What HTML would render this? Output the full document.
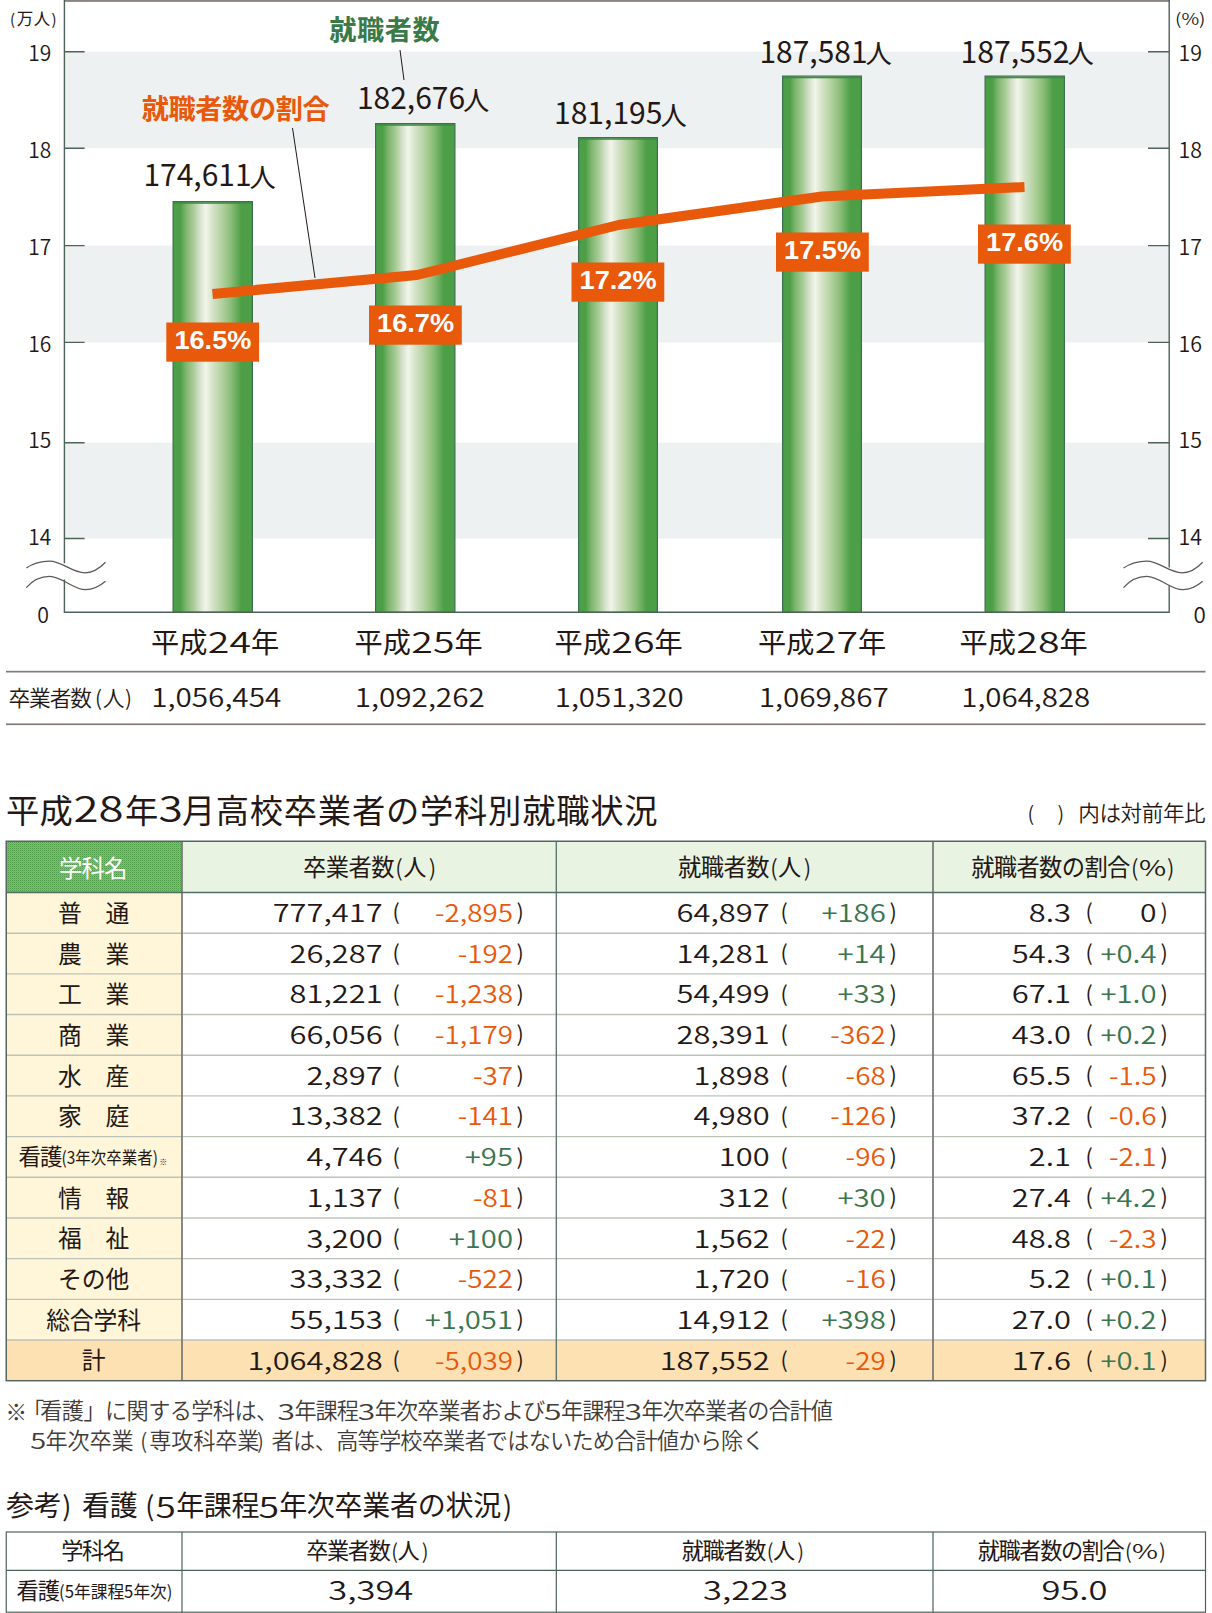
<!DOCTYPE html>
<html lang="ja"><head><meta charset="utf-8"><title>高校卒業者の就職状況</title>
<style>html,body{margin:0;padding:0;background:#fff}svg{display:block}
text{font-family:"Liberation Sans","Noto Sans CJK JP",sans-serif}
text.c{font-family:"Noto Sans CJK JP","Liberation Sans",sans-serif}
</style></head><body>
<svg width="1212" height="1613" viewBox="0 0 1212 1613">
<g fill="#231815">
<defs>
<linearGradient id="bar" x1="0" y1="0" x2="1" y2="0">
<stop offset="0.00" stop-color="#4c9f46"/>
<stop offset="0.09" stop-color="#4c9f46"/>
<stop offset="0.16" stop-color="#7db56e"/>
<stop offset="0.26" stop-color="#a9cd97"/>
<stop offset="0.33" stop-color="#d3dec9"/>
<stop offset="0.41" stop-color="#f1f6e9"/>
<stop offset="0.50" stop-color="#d5e2c8"/>
<stop offset="0.61" stop-color="#b3d3a0"/>
<stop offset="0.73" stop-color="#8bbd79"/>
<stop offset="0.86" stop-color="#4c9f46"/>
<stop offset="1.00" stop-color="#4c9f46"/>
</linearGradient>
<pattern id="dots" width="2" height="2" patternUnits="userSpaceOnUse"><rect width="2" height="2" fill="#80be70"/><rect width="1" height="1" fill="#4f9c48"/><rect x="1" y="1" width="1" height="1" fill="#6eb160"/></pattern>
</defs>
<rect x="64.4" y="51.7" width="1104.8" height="96.5" fill="#eef1f2"/>
<rect x="64.4" y="245.6" width="1104.8" height="96.8" fill="#eef1f2"/>
<rect x="64.4" y="442.7" width="1104.8" height="95.8" fill="#eef1f2"/>
<rect x="64" y="0" width="1106" height="1.9" fill="#8a8481"/>
<rect x="173.1" y="201.6" width="79.3" height="410.7" fill="url(#bar)" stroke="#3c6e50" stroke-width="1.2"/>
<rect x="173.7" y="202.2" width="78.1" height="1.6" fill="#3f8a45"/>
<rect x="375.6" y="123.6" width="79.3" height="488.7" fill="url(#bar)" stroke="#3c6e50" stroke-width="1.2"/>
<rect x="376.2" y="124.2" width="78.1" height="1.6" fill="#3f8a45"/>
<rect x="578.6" y="137.6" width="78.8" height="474.7" fill="url(#bar)" stroke="#3c6e50" stroke-width="1.2"/>
<rect x="579.2" y="138.2" width="77.6" height="1.6" fill="#3f8a45"/>
<rect x="782.6" y="76.1" width="78.8" height="536.2" fill="url(#bar)" stroke="#3c6e50" stroke-width="1.2"/>
<rect x="783.2" y="76.7" width="77.6" height="1.6" fill="#3f8a45"/>
<rect x="985.1" y="76.1" width="79.3" height="536.2" fill="url(#bar)" stroke="#3c6e50" stroke-width="1.2"/>
<rect x="985.7" y="76.7" width="78.1" height="1.6" fill="#3f8a45"/>
<path d="M64.4 0V563.2M64.4 579.5V612.3H1169.2V585.5M1169.2 567.5V0" fill="none" stroke="#4d6358" stroke-width="1.4"/>
<path d="M64.4 51.7h20.2M1169.2 51.7h-21.2" stroke="#4d6358" stroke-width="1.4" fill="none"/>
<path d="M64.4 148.2h20.2M1169.2 148.2h-21.2" stroke="#4d6358" stroke-width="1.4" fill="none"/>
<path d="M64.4 245.6h20.2M1169.2 245.6h-21.2" stroke="#4d6358" stroke-width="1.4" fill="none"/>
<path d="M64.4 342.4h20.2M1169.2 342.4h-21.2" stroke="#4d6358" stroke-width="1.4" fill="none"/>
<path d="M64.4 442.7h20.2M1169.2 442.7h-21.2" stroke="#4d6358" stroke-width="1.4" fill="none"/>
<path d="M64.4 538.5h20.2M1169.2 538.5h-21.2" stroke="#4d6358" stroke-width="1.4" fill="none"/>
<g transform="translate(0.0 0)" fill="none" stroke="#5d5a55" stroke-width="1.25"><path d="M26.3 568.1C33 563.5 41 561.2 49.6 561.2C62 561.2 72 572.8 84.8 572.8C93 572.8 100 568 105.5 562.2"/><path d="M26.3 587.6C32 581 40 576.3 49.6 576.3C62 576.3 73 589.7 85.7 589.7C93 589.7 100 586 105.5 581.3"/></g>
<g transform="translate(1097.2 0)" fill="none" stroke="#5d5a55" stroke-width="1.25"><path d="M26.3 568.1C33 563.5 41 561.2 49.6 561.2C62 561.2 72 572.8 84.8 572.8C93 572.8 100 568 105.5 562.2"/><path d="M26.3 587.6C32 581 40 576.3 49.6 576.3C62 576.3 73 589.7 85.7 589.7C93 589.7 100 586 105.5 581.3"/></g>
<polyline points="212.5,294.0 417.0,275.0 618.5,225.0 822.0,196.5 1024.5,187.0" fill="none" stroke="#e8590c" stroke-width="10" stroke-linejoin="round"/>
<path d="M400 50L404 80M292.5 128L315 278" stroke="#231815" stroke-width="1" fill="none"/>
<rect x="166.3" y="322.5" width="92.8" height="39.2" fill="#e8590c"/>
<text x="212.90" y="349.10" font-size="25.00" text-anchor="middle" fill="#fff" font-weight="bold" textLength="77.00" lengthAdjust="spacingAndGlyphs">16.5%</text>
<rect x="369.0" y="305.5" width="92.8" height="39.2" fill="#e8590c"/>
<text x="415.60" y="332.10" font-size="25.00" text-anchor="middle" fill="#fff" font-weight="bold" textLength="77.00" lengthAdjust="spacingAndGlyphs">16.7%</text>
<rect x="571.5" y="262.5" width="92.8" height="39.2" fill="#e8590c"/>
<text x="618.10" y="289.10" font-size="25.00" text-anchor="middle" fill="#fff" font-weight="bold" textLength="77.00" lengthAdjust="spacingAndGlyphs">17.2%</text>
<rect x="776.0" y="232.5" width="92.8" height="39.2" fill="#e8590c"/>
<text x="822.60" y="259.10" font-size="25.00" text-anchor="middle" fill="#fff" font-weight="bold" textLength="77.00" lengthAdjust="spacingAndGlyphs">17.5%</text>
<rect x="978.0" y="224.5" width="92.8" height="39.2" fill="#e8590c"/>
<text x="1024.60" y="251.10" font-size="25.00" text-anchor="middle" fill="#fff" font-weight="bold" textLength="77.00" lengthAdjust="spacingAndGlyphs">17.6%</text>
<text x="143.48" y="186.20" font-size="30.48" font-weight="400" class="c" textLength="108.05" lengthAdjust="spacingAndGlyphs">174,611</text>
<text x="249.40" y="186.80" font-size="26.30" font-weight="400" class="c">人</text>
<text x="356.98" y="109.00" font-size="30.48" font-weight="400" class="c" textLength="108.05" lengthAdjust="spacingAndGlyphs">182,676</text>
<text x="462.90" y="109.60" font-size="26.30" font-weight="400" class="c">人</text>
<text x="553.98" y="124.00" font-size="30.48" font-weight="400" class="c" textLength="108.55" lengthAdjust="spacingAndGlyphs">181,195</text>
<text x="660.40" y="124.60" font-size="26.30" font-weight="400" class="c">人</text>
<text x="759.48" y="62.80" font-size="30.48" font-weight="400" class="c" textLength="108.05" lengthAdjust="spacingAndGlyphs">187,581</text>
<text x="865.40" y="63.40" font-size="26.30" font-weight="400" class="c">人</text>
<text x="960.48" y="62.80" font-size="30.48" font-weight="400" class="c" textLength="109.05" lengthAdjust="spacingAndGlyphs">187,552</text>
<text x="1067.40" y="63.40" font-size="26.30" font-weight="400" class="c">人</text>
<text x="329.27" y="39.60" font-size="27.20" fill="#3a7a48" font-weight="700" class="c" letter-spacing="0.550">就職者数</text>
<text x="141.79" y="119.00" font-size="27.20" fill="#e8590c" font-weight="700" class="c" letter-spacing="-0.414">就職者数の割合</text>
<text x="51.30" y="61.30" font-size="21.00" text-anchor="end" font-weight="350" class="c" textLength="23.00" lengthAdjust="spacingAndGlyphs">19</text>
<text x="1178.60" y="61.30" font-size="21.00" font-weight="350" class="c" textLength="23.50" lengthAdjust="spacingAndGlyphs">19</text>
<text x="51.30" y="158.05" font-size="21.00" text-anchor="end" font-weight="350" class="c" textLength="23.00" lengthAdjust="spacingAndGlyphs">18</text>
<text x="1178.60" y="158.05" font-size="21.00" font-weight="350" class="c" textLength="23.50" lengthAdjust="spacingAndGlyphs">18</text>
<text x="51.30" y="254.80" font-size="21.00" text-anchor="end" font-weight="350" class="c" textLength="23.00" lengthAdjust="spacingAndGlyphs">17</text>
<text x="1178.60" y="254.80" font-size="21.00" font-weight="350" class="c" textLength="23.50" lengthAdjust="spacingAndGlyphs">17</text>
<text x="51.30" y="351.55" font-size="21.00" text-anchor="end" font-weight="350" class="c" textLength="23.00" lengthAdjust="spacingAndGlyphs">16</text>
<text x="1178.60" y="351.55" font-size="21.00" font-weight="350" class="c" textLength="23.50" lengthAdjust="spacingAndGlyphs">16</text>
<text x="51.30" y="448.30" font-size="21.00" text-anchor="end" font-weight="350" class="c" textLength="23.00" lengthAdjust="spacingAndGlyphs">15</text>
<text x="1178.60" y="448.30" font-size="21.00" font-weight="350" class="c" textLength="23.50" lengthAdjust="spacingAndGlyphs">15</text>
<text x="51.30" y="545.05" font-size="21.00" text-anchor="end" font-weight="350" class="c" textLength="23.00" lengthAdjust="spacingAndGlyphs">14</text>
<text x="1178.60" y="545.05" font-size="21.00" font-weight="350" class="c" textLength="23.50" lengthAdjust="spacingAndGlyphs">14</text>
<text x="37.15" y="622.90" font-size="21.01" font-weight="350" class="c" textLength="11.70" lengthAdjust="spacingAndGlyphs">0</text>
<text x="1193.45" y="623.20" font-size="21.01" font-weight="350" class="c" textLength="12.30" lengthAdjust="spacingAndGlyphs">0</text>
<text x="10.00" y="25.00" font-size="15.00" font-weight="400" class="c">(</text>
<text x="16.75" y="25.00" font-size="16.50" font-weight="400" class="c" letter-spacing="0.500">万人</text>
<text x="51.50" y="25.00" font-size="15.00" font-weight="400" class="c">)</text>
<text x="1175.00" y="25.20" font-size="16.20" font-weight="350" class="c" textLength="30.50" lengthAdjust="spacingAndGlyphs">(%)</text>
<text x="151.03" y="653.10" font-size="28.20" font-weight="400" class="c" letter-spacing="0.050">平成</text>
<text x="207.86" y="652.80" font-size="28.82" font-weight="350" class="c" textLength="43.18" lengthAdjust="spacingAndGlyphs">24</text>
<text x="250.90" y="653.10" font-size="28.20" font-weight="400" class="c" letter-spacing="0.200">年</text>
<text x="354.52" y="653.10" font-size="28.20" font-weight="400" class="c" letter-spacing="0.050">平成</text>
<text x="411.36" y="652.80" font-size="28.82" font-weight="350" class="c" textLength="43.18" lengthAdjust="spacingAndGlyphs">25</text>
<text x="454.40" y="653.10" font-size="28.20" font-weight="400" class="c" letter-spacing="0.200">年</text>
<text x="554.52" y="653.10" font-size="28.20" font-weight="400" class="c" letter-spacing="0.050">平成</text>
<text x="611.36" y="652.80" font-size="28.82" font-weight="350" class="c" textLength="43.18" lengthAdjust="spacingAndGlyphs">26</text>
<text x="654.40" y="653.10" font-size="28.20" font-weight="400" class="c" letter-spacing="0.200">年</text>
<text x="758.02" y="653.10" font-size="28.20" font-weight="400" class="c" letter-spacing="0.050">平成</text>
<text x="814.86" y="652.80" font-size="28.82" font-weight="350" class="c" textLength="43.18" lengthAdjust="spacingAndGlyphs">27</text>
<text x="857.90" y="653.10" font-size="28.20" font-weight="400" class="c" letter-spacing="0.200">年</text>
<text x="959.52" y="653.10" font-size="28.20" font-weight="400" class="c" letter-spacing="0.050">平成</text>
<text x="1016.36" y="652.80" font-size="28.82" font-weight="350" class="c" textLength="43.18" lengthAdjust="spacingAndGlyphs">28</text>
<text x="1059.40" y="653.10" font-size="28.20" font-weight="400" class="c" letter-spacing="0.200">年</text>
<rect x="6" y="670.8" width="1199.5" height="1.7" fill="#837a76"/>
<rect x="6" y="723.4" width="1199.5" height="1.7" fill="#837a76"/>
<text x="8.41" y="706.00" font-size="21.80" font-weight="350" class="c" letter-spacing="-1.175">卒業者数</text>
<text x="95.00" y="705.50" font-size="21.00" font-weight="350" class="c">(</text>
<text x="102.85" y="706.00" font-size="21.80" font-weight="350" class="c" letter-spacing="0.700">人</text>
<text x="125.00" y="705.50" font-size="21.00" font-weight="350" class="c">)</text>
<text x="151.23" y="707.00" font-size="25.40" font-weight="350" class="c" textLength="130.04" lengthAdjust="spacingAndGlyphs">1,056,454</text>
<text x="354.73" y="707.00" font-size="25.40" font-weight="350" class="c" textLength="130.04" lengthAdjust="spacingAndGlyphs">1,092,262</text>
<text x="554.73" y="707.00" font-size="25.40" font-weight="350" class="c" textLength="129.04" lengthAdjust="spacingAndGlyphs">1,051,320</text>
<text x="758.73" y="707.00" font-size="25.40" font-weight="350" class="c" textLength="130.04" lengthAdjust="spacingAndGlyphs">1,069,867</text>
<text x="961.23" y="707.00" font-size="25.40" font-weight="350" class="c" textLength="129.04" lengthAdjust="spacingAndGlyphs">1,064,828</text>
<text x="6.10" y="822.50" font-size="33.30" font-weight="400" class="c" letter-spacing="0.200">平成</text>
<text x="73.44" y="822.30" font-size="35.17" font-weight="350" class="c" textLength="50.12" lengthAdjust="spacingAndGlyphs">28</text>
<text x="124.90" y="822.50" font-size="33.30" font-weight="400" class="c" letter-spacing="0.200">年</text>
<text x="158.64" y="822.30" font-size="35.17" font-weight="350" class="c" textLength="24.32" lengthAdjust="spacingAndGlyphs">3</text>
<text x="181.90" y="822.50" font-size="33.30" font-weight="400" class="c" letter-spacing="0.200">月</text>
<text x="215.68" y="822.50" font-size="33.30" font-weight="400" class="c" letter-spacing="0.754">高校卒業者の学科別就職状況</text>
<text x="1027.40" y="820.50" font-size="20.00" font-weight="350" class="c">(</text>
<text x="1057.40" y="820.50" font-size="20.00" font-weight="350" class="c">)</text>
<text x="1078.28" y="820.80" font-size="21.60" font-weight="350" class="c" letter-spacing="-0.433">内は対前年比</text>
<rect x="6.25" y="841.25" width="175.75" height="51.25" fill="url(#dots)"/>
<rect x="182.00" y="841.25" width="1023.50" height="51.25" fill="#e9f3e2"/>
<rect x="6.25" y="892.50" width="175.75" height="447.52" fill="#fff5d8"/>
<rect x="6.25" y="1340.02" width="1199.25" height="40.68" fill="#fde1b3"/>
<path d="M6.25 933.18H1205.50" stroke="#bcc3b8" stroke-width="1.4"/>
<path d="M6.25 973.87H1205.50" stroke="#bcc3b8" stroke-width="1.4"/>
<path d="M6.25 1014.55H1205.50" stroke="#bcc3b8" stroke-width="1.4"/>
<path d="M6.25 1055.23H1205.50" stroke="#bcc3b8" stroke-width="1.4"/>
<path d="M6.25 1095.92H1205.50" stroke="#bcc3b8" stroke-width="1.4"/>
<path d="M6.25 1136.60H1205.50" stroke="#bcc3b8" stroke-width="1.4"/>
<path d="M6.25 1177.28H1205.50" stroke="#bcc3b8" stroke-width="1.4"/>
<path d="M6.25 1217.97H1205.50" stroke="#bcc3b8" stroke-width="1.4"/>
<path d="M6.25 1258.65H1205.50" stroke="#bcc3b8" stroke-width="1.4"/>
<path d="M6.25 1299.33H1205.50" stroke="#bcc3b8" stroke-width="1.4"/>
<path d="M6.25 1340.02H1205.50" stroke="#bcc3b8" stroke-width="1.4"/>
<path d="M182.00 841.25V1380.70" stroke="#7b7c7a" stroke-width="1.8"/>
<path d="M556.30 841.25V1380.70" stroke="#55706a" stroke-width="1.3"/>
<path d="M933.00 841.25V1380.70" stroke="#7b7c7a" stroke-width="1.8"/>
<path d="M6.25 892.50H1205.50" stroke="#4f6f62" stroke-width="1.3"/>
<rect x="6.25" y="841.25" width="1199.25" height="539.45" fill="none" stroke="#56665f" stroke-width="1.5"/>
<text x="59.00" y="877.00" font-size="23.50" fill="#fff" font-weight="400" class="c" letter-spacing="-1.000">学科名</text>
<text x="303.03" y="876.30" font-size="23.30" font-weight="400" class="c" letter-spacing="-0.550">卒業者数</text>
<text x="395.30" y="876.00" font-size="22.50" font-weight="350" class="c">(</text>
<text x="403.15" y="876.30" font-size="23.30" font-weight="400" class="c" letter-spacing="0.700">人</text>
<text x="428.80" y="876.00" font-size="22.50" font-weight="350" class="c">)</text>
<text x="677.93" y="876.30" font-size="23.30" font-weight="400" class="c" letter-spacing="-0.550">就職者数</text>
<text x="770.20" y="876.00" font-size="22.50" font-weight="350" class="c">(</text>
<text x="778.05" y="876.30" font-size="23.30" font-weight="400" class="c" letter-spacing="0.700">人</text>
<text x="803.70" y="876.00" font-size="22.50" font-weight="350" class="c">)</text>
<text x="971.17" y="876.30" font-size="23.30" font-weight="400" class="c" letter-spacing="-0.650">就職者数の割合</text>
<text x="1131.05" y="876.00" font-size="22.50" font-weight="350" class="c">(</text>
<text x="1138.95" y="876.30" font-size="21.98" font-weight="350" class="c" textLength="27.20" lengthAdjust="spacingAndGlyphs">%</text>
<text x="1167.05" y="876.00" font-size="22.50" font-weight="350" class="c">)</text>
<text x="58.00" y="921.84" font-size="23.80" font-weight="400" class="c" letter-spacing="-0.100">普　通</text>
<text transform="translate(382.60 922.04) scale(1.2650 1)" font-size="24.40" text-anchor="end" font-weight="350" class="c">777,417</text>
<text x="392.60" y="920.44" font-size="21.50" font-weight="400" class="c">(</text>
<text transform="translate(513.00 922.04) scale(1.1400 1)" font-size="24.40" text-anchor="end" fill="#e8590c" font-weight="350" class="c">-2,895</text>
<text x="516.60" y="920.44" font-size="21.50" font-weight="400" class="c">)</text>
<text transform="translate(769.60 922.04) scale(1.2650 1)" font-size="24.40" text-anchor="end" font-weight="350" class="c">64,897</text>
<text x="780.60" y="920.44" font-size="21.50" font-weight="400" class="c">(</text>
<text transform="translate(885.70 922.04) scale(1.2000 1)" font-size="24.40" text-anchor="end" fill="#3b7550" font-weight="350" class="c">+186</text>
<text x="889.60" y="920.44" font-size="21.50" font-weight="400" class="c">)</text>
<text transform="translate(1071.00 922.04) scale(1.2650 1)" font-size="24.40" text-anchor="end" font-weight="350" class="c">8.3</text>
<text x="1085.40" y="920.44" font-size="21.50" font-weight="400" class="c">(</text>
<text transform="translate(1156.50 922.04) scale(1.2300 1)" font-size="24.40" text-anchor="end" font-weight="350" class="c">0</text>
<text x="1160.60" y="920.44" font-size="21.50" font-weight="400" class="c">)</text>
<text x="58.00" y="962.52" font-size="23.80" font-weight="400" class="c" letter-spacing="-0.100">農　業</text>
<text transform="translate(382.60 962.73) scale(1.2650 1)" font-size="24.40" text-anchor="end" font-weight="350" class="c">26,287</text>
<text x="392.60" y="961.12" font-size="21.50" font-weight="400" class="c">(</text>
<text transform="translate(513.00 962.73) scale(1.1400 1)" font-size="24.40" text-anchor="end" fill="#e8590c" font-weight="350" class="c">-192</text>
<text x="516.60" y="961.12" font-size="21.50" font-weight="400" class="c">)</text>
<text transform="translate(769.60 962.73) scale(1.2650 1)" font-size="24.40" text-anchor="end" font-weight="350" class="c">14,281</text>
<text x="780.60" y="961.12" font-size="21.50" font-weight="400" class="c">(</text>
<text transform="translate(885.70 962.73) scale(1.2000 1)" font-size="24.40" text-anchor="end" fill="#3b7550" font-weight="350" class="c">+14</text>
<text x="889.60" y="961.12" font-size="21.50" font-weight="400" class="c">)</text>
<text transform="translate(1071.00 962.73) scale(1.2650 1)" font-size="24.40" text-anchor="end" font-weight="350" class="c">54.3</text>
<text x="1085.40" y="961.12" font-size="21.50" font-weight="400" class="c">(</text>
<text transform="translate(1156.50 962.73) scale(1.2000 1)" font-size="24.40" text-anchor="end" fill="#3b7550" font-weight="350" class="c">+0.4</text>
<text x="1160.60" y="961.12" font-size="21.50" font-weight="400" class="c">)</text>
<text x="58.00" y="1003.21" font-size="23.80" font-weight="400" class="c" letter-spacing="-0.100">工　業</text>
<text transform="translate(382.60 1003.41) scale(1.2650 1)" font-size="24.40" text-anchor="end" font-weight="350" class="c">81,221</text>
<text x="392.60" y="1001.81" font-size="21.50" font-weight="400" class="c">(</text>
<text transform="translate(513.00 1003.41) scale(1.1400 1)" font-size="24.40" text-anchor="end" fill="#e8590c" font-weight="350" class="c">-1,238</text>
<text x="516.60" y="1001.81" font-size="21.50" font-weight="400" class="c">)</text>
<text transform="translate(769.60 1003.41) scale(1.2650 1)" font-size="24.40" text-anchor="end" font-weight="350" class="c">54,499</text>
<text x="780.60" y="1001.81" font-size="21.50" font-weight="400" class="c">(</text>
<text transform="translate(885.70 1003.41) scale(1.2000 1)" font-size="24.40" text-anchor="end" fill="#3b7550" font-weight="350" class="c">+33</text>
<text x="889.60" y="1001.81" font-size="21.50" font-weight="400" class="c">)</text>
<text transform="translate(1071.00 1003.41) scale(1.2650 1)" font-size="24.40" text-anchor="end" font-weight="350" class="c">67.1</text>
<text x="1085.40" y="1001.81" font-size="21.50" font-weight="400" class="c">(</text>
<text transform="translate(1156.50 1003.41) scale(1.2000 1)" font-size="24.40" text-anchor="end" fill="#3b7550" font-weight="350" class="c">+1.0</text>
<text x="1160.60" y="1001.81" font-size="21.50" font-weight="400" class="c">)</text>
<text x="58.00" y="1043.89" font-size="23.80" font-weight="400" class="c" letter-spacing="-0.100">商　業</text>
<text transform="translate(382.60 1044.09) scale(1.2650 1)" font-size="24.40" text-anchor="end" font-weight="350" class="c">66,056</text>
<text x="392.60" y="1042.49" font-size="21.50" font-weight="400" class="c">(</text>
<text transform="translate(513.00 1044.09) scale(1.1400 1)" font-size="24.40" text-anchor="end" fill="#e8590c" font-weight="350" class="c">-1,179</text>
<text x="516.60" y="1042.49" font-size="21.50" font-weight="400" class="c">)</text>
<text transform="translate(769.60 1044.09) scale(1.2650 1)" font-size="24.40" text-anchor="end" font-weight="350" class="c">28,391</text>
<text x="780.60" y="1042.49" font-size="21.50" font-weight="400" class="c">(</text>
<text transform="translate(885.70 1044.09) scale(1.1400 1)" font-size="24.40" text-anchor="end" fill="#e8590c" font-weight="350" class="c">-362</text>
<text x="889.60" y="1042.49" font-size="21.50" font-weight="400" class="c">)</text>
<text transform="translate(1071.00 1044.09) scale(1.2650 1)" font-size="24.40" text-anchor="end" font-weight="350" class="c">43.0</text>
<text x="1085.40" y="1042.49" font-size="21.50" font-weight="400" class="c">(</text>
<text transform="translate(1156.50 1044.09) scale(1.2000 1)" font-size="24.40" text-anchor="end" fill="#3b7550" font-weight="350" class="c">+0.2</text>
<text x="1160.60" y="1042.49" font-size="21.50" font-weight="400" class="c">)</text>
<text x="58.00" y="1084.58" font-size="23.80" font-weight="400" class="c" letter-spacing="-0.100">水　産</text>
<text transform="translate(382.60 1084.78) scale(1.2650 1)" font-size="24.40" text-anchor="end" font-weight="350" class="c">2,897</text>
<text x="392.60" y="1083.18" font-size="21.50" font-weight="400" class="c">(</text>
<text transform="translate(513.00 1084.78) scale(1.1400 1)" font-size="24.40" text-anchor="end" fill="#e8590c" font-weight="350" class="c">-37</text>
<text x="516.60" y="1083.18" font-size="21.50" font-weight="400" class="c">)</text>
<text transform="translate(769.60 1084.78) scale(1.2650 1)" font-size="24.40" text-anchor="end" font-weight="350" class="c">1,898</text>
<text x="780.60" y="1083.18" font-size="21.50" font-weight="400" class="c">(</text>
<text transform="translate(885.70 1084.78) scale(1.1400 1)" font-size="24.40" text-anchor="end" fill="#e8590c" font-weight="350" class="c">-68</text>
<text x="889.60" y="1083.18" font-size="21.50" font-weight="400" class="c">)</text>
<text transform="translate(1071.00 1084.78) scale(1.2650 1)" font-size="24.40" text-anchor="end" font-weight="350" class="c">65.5</text>
<text x="1085.40" y="1083.18" font-size="21.50" font-weight="400" class="c">(</text>
<text transform="translate(1156.50 1084.78) scale(1.1400 1)" font-size="24.40" text-anchor="end" fill="#e8590c" font-weight="350" class="c">-1.5</text>
<text x="1160.60" y="1083.18" font-size="21.50" font-weight="400" class="c">)</text>
<text x="58.00" y="1125.26" font-size="23.80" font-weight="400" class="c" letter-spacing="-0.100">家　庭</text>
<text transform="translate(382.60 1125.46) scale(1.2650 1)" font-size="24.40" text-anchor="end" font-weight="350" class="c">13,382</text>
<text x="392.60" y="1123.86" font-size="21.50" font-weight="400" class="c">(</text>
<text transform="translate(513.00 1125.46) scale(1.1400 1)" font-size="24.40" text-anchor="end" fill="#e8590c" font-weight="350" class="c">-141</text>
<text x="516.60" y="1123.86" font-size="21.50" font-weight="400" class="c">)</text>
<text transform="translate(769.60 1125.46) scale(1.2650 1)" font-size="24.40" text-anchor="end" font-weight="350" class="c">4,980</text>
<text x="780.60" y="1123.86" font-size="21.50" font-weight="400" class="c">(</text>
<text transform="translate(885.70 1125.46) scale(1.1400 1)" font-size="24.40" text-anchor="end" fill="#e8590c" font-weight="350" class="c">-126</text>
<text x="889.60" y="1123.86" font-size="21.50" font-weight="400" class="c">)</text>
<text transform="translate(1071.00 1125.46) scale(1.2650 1)" font-size="24.40" text-anchor="end" font-weight="350" class="c">37.2</text>
<text x="1085.40" y="1123.86" font-size="21.50" font-weight="400" class="c">(</text>
<text transform="translate(1156.50 1125.46) scale(1.1400 1)" font-size="24.40" text-anchor="end" fill="#e8590c" font-weight="350" class="c">-0.6</text>
<text x="1160.60" y="1123.86" font-size="21.50" font-weight="400" class="c">)</text>
<text x="18.50" y="1165.34" font-size="22.50" font-weight="400" class="c" letter-spacing="-1.000">看護</text>
<text x="61.50" y="1164.34" font-size="17.50" font-weight="400" class="c" textLength="96.50" lengthAdjust="spacingAndGlyphs">(3年次卒業者)</text>
<text x="159.30" y="1164.94" font-size="8.00" font-weight="400" class="c">※</text>
<text transform="translate(382.60 1166.14) scale(1.2650 1)" font-size="24.40" text-anchor="end" font-weight="350" class="c">4,746</text>
<text x="392.60" y="1164.54" font-size="21.50" font-weight="400" class="c">(</text>
<text transform="translate(513.00 1166.14) scale(1.2000 1)" font-size="24.40" text-anchor="end" fill="#3b7550" font-weight="350" class="c">+95</text>
<text x="516.60" y="1164.54" font-size="21.50" font-weight="400" class="c">)</text>
<text transform="translate(769.60 1166.14) scale(1.2650 1)" font-size="24.40" text-anchor="end" font-weight="350" class="c">100</text>
<text x="780.60" y="1164.54" font-size="21.50" font-weight="400" class="c">(</text>
<text transform="translate(885.70 1166.14) scale(1.1400 1)" font-size="24.40" text-anchor="end" fill="#e8590c" font-weight="350" class="c">-96</text>
<text x="889.60" y="1164.54" font-size="21.50" font-weight="400" class="c">)</text>
<text transform="translate(1071.00 1166.14) scale(1.2650 1)" font-size="24.40" text-anchor="end" font-weight="350" class="c">2.1</text>
<text x="1085.40" y="1164.54" font-size="21.50" font-weight="400" class="c">(</text>
<text transform="translate(1156.50 1166.14) scale(1.1400 1)" font-size="24.40" text-anchor="end" fill="#e8590c" font-weight="350" class="c">-2.1</text>
<text x="1160.60" y="1164.54" font-size="21.50" font-weight="400" class="c">)</text>
<text x="58.00" y="1206.62" font-size="23.80" font-weight="400" class="c" letter-spacing="-0.100">情　報</text>
<text transform="translate(382.60 1206.83) scale(1.2650 1)" font-size="24.40" text-anchor="end" font-weight="350" class="c">1,137</text>
<text x="392.60" y="1205.23" font-size="21.50" font-weight="400" class="c">(</text>
<text transform="translate(513.00 1206.83) scale(1.1400 1)" font-size="24.40" text-anchor="end" fill="#e8590c" font-weight="350" class="c">-81</text>
<text x="516.60" y="1205.23" font-size="21.50" font-weight="400" class="c">)</text>
<text transform="translate(769.60 1206.83) scale(1.2650 1)" font-size="24.40" text-anchor="end" font-weight="350" class="c">312</text>
<text x="780.60" y="1205.23" font-size="21.50" font-weight="400" class="c">(</text>
<text transform="translate(885.70 1206.83) scale(1.2000 1)" font-size="24.40" text-anchor="end" fill="#3b7550" font-weight="350" class="c">+30</text>
<text x="889.60" y="1205.23" font-size="21.50" font-weight="400" class="c">)</text>
<text transform="translate(1071.00 1206.83) scale(1.2650 1)" font-size="24.40" text-anchor="end" font-weight="350" class="c">27.4</text>
<text x="1085.40" y="1205.23" font-size="21.50" font-weight="400" class="c">(</text>
<text transform="translate(1156.50 1206.83) scale(1.2000 1)" font-size="24.40" text-anchor="end" fill="#3b7550" font-weight="350" class="c">+4.2</text>
<text x="1160.60" y="1205.23" font-size="21.50" font-weight="400" class="c">)</text>
<text x="58.00" y="1247.31" font-size="23.80" font-weight="400" class="c" letter-spacing="-0.100">福　祉</text>
<text transform="translate(382.60 1247.51) scale(1.2650 1)" font-size="24.40" text-anchor="end" font-weight="350" class="c">3,200</text>
<text x="392.60" y="1245.91" font-size="21.50" font-weight="400" class="c">(</text>
<text transform="translate(513.00 1247.51) scale(1.2000 1)" font-size="24.40" text-anchor="end" fill="#3b7550" font-weight="350" class="c">+100</text>
<text x="516.60" y="1245.91" font-size="21.50" font-weight="400" class="c">)</text>
<text transform="translate(769.60 1247.51) scale(1.2650 1)" font-size="24.40" text-anchor="end" font-weight="350" class="c">1,562</text>
<text x="780.60" y="1245.91" font-size="21.50" font-weight="400" class="c">(</text>
<text transform="translate(885.70 1247.51) scale(1.1400 1)" font-size="24.40" text-anchor="end" fill="#e8590c" font-weight="350" class="c">-22</text>
<text x="889.60" y="1245.91" font-size="21.50" font-weight="400" class="c">)</text>
<text transform="translate(1071.00 1247.51) scale(1.2650 1)" font-size="24.40" text-anchor="end" font-weight="350" class="c">48.8</text>
<text x="1085.40" y="1245.91" font-size="21.50" font-weight="400" class="c">(</text>
<text transform="translate(1156.50 1247.51) scale(1.1400 1)" font-size="24.40" text-anchor="end" fill="#e8590c" font-weight="350" class="c">-2.3</text>
<text x="1160.60" y="1245.91" font-size="21.50" font-weight="400" class="c">)</text>
<text x="58.00" y="1287.99" font-size="23.80" font-weight="400" class="c" letter-spacing="-0.100">その他</text>
<text transform="translate(382.60 1288.19) scale(1.2650 1)" font-size="24.40" text-anchor="end" font-weight="350" class="c">33,332</text>
<text x="392.60" y="1286.59" font-size="21.50" font-weight="400" class="c">(</text>
<text transform="translate(513.00 1288.19) scale(1.1400 1)" font-size="24.40" text-anchor="end" fill="#e8590c" font-weight="350" class="c">-522</text>
<text x="516.60" y="1286.59" font-size="21.50" font-weight="400" class="c">)</text>
<text transform="translate(769.60 1288.19) scale(1.2650 1)" font-size="24.40" text-anchor="end" font-weight="350" class="c">1,720</text>
<text x="780.60" y="1286.59" font-size="21.50" font-weight="400" class="c">(</text>
<text transform="translate(885.70 1288.19) scale(1.1400 1)" font-size="24.40" text-anchor="end" fill="#e8590c" font-weight="350" class="c">-16</text>
<text x="889.60" y="1286.59" font-size="21.50" font-weight="400" class="c">)</text>
<text transform="translate(1071.00 1288.19) scale(1.2650 1)" font-size="24.40" text-anchor="end" font-weight="350" class="c">5.2</text>
<text x="1085.40" y="1286.59" font-size="21.50" font-weight="400" class="c">(</text>
<text transform="translate(1156.50 1288.19) scale(1.2000 1)" font-size="24.40" text-anchor="end" fill="#3b7550" font-weight="350" class="c">+0.1</text>
<text x="1160.60" y="1286.59" font-size="21.50" font-weight="400" class="c">)</text>
<text x="46.15" y="1328.68" font-size="23.80" font-weight="400" class="c" letter-spacing="-0.100">総合学科</text>
<text transform="translate(382.60 1328.88) scale(1.2650 1)" font-size="24.40" text-anchor="end" font-weight="350" class="c">55,153</text>
<text x="392.60" y="1327.28" font-size="21.50" font-weight="400" class="c">(</text>
<text transform="translate(513.00 1328.88) scale(1.2000 1)" font-size="24.40" text-anchor="end" fill="#3b7550" font-weight="350" class="c">+1,051</text>
<text x="516.60" y="1327.28" font-size="21.50" font-weight="400" class="c">)</text>
<text transform="translate(769.60 1328.88) scale(1.2650 1)" font-size="24.40" text-anchor="end" font-weight="350" class="c">14,912</text>
<text x="780.60" y="1327.28" font-size="21.50" font-weight="400" class="c">(</text>
<text transform="translate(885.70 1328.88) scale(1.2000 1)" font-size="24.40" text-anchor="end" fill="#3b7550" font-weight="350" class="c">+398</text>
<text x="889.60" y="1327.28" font-size="21.50" font-weight="400" class="c">)</text>
<text transform="translate(1071.00 1328.88) scale(1.2650 1)" font-size="24.40" text-anchor="end" font-weight="350" class="c">27.0</text>
<text x="1085.40" y="1327.28" font-size="21.50" font-weight="400" class="c">(</text>
<text transform="translate(1156.50 1328.88) scale(1.2000 1)" font-size="24.40" text-anchor="end" fill="#3b7550" font-weight="350" class="c">+0.2</text>
<text x="1160.60" y="1327.28" font-size="21.50" font-weight="400" class="c">)</text>
<text x="81.70" y="1369.36" font-size="23.80" font-weight="400" class="c" letter-spacing="-0.100">計</text>
<text transform="translate(382.60 1369.56) scale(1.2650 1)" font-size="24.40" text-anchor="end" font-weight="350" class="c">1,064,828</text>
<text x="392.60" y="1367.96" font-size="21.50" font-weight="400" class="c">(</text>
<text transform="translate(513.00 1369.56) scale(1.1400 1)" font-size="24.40" text-anchor="end" fill="#e8590c" font-weight="350" class="c">-5,039</text>
<text x="516.60" y="1367.96" font-size="21.50" font-weight="400" class="c">)</text>
<text transform="translate(769.60 1369.56) scale(1.2650 1)" font-size="24.40" text-anchor="end" font-weight="350" class="c">187,552</text>
<text x="780.60" y="1367.96" font-size="21.50" font-weight="400" class="c">(</text>
<text transform="translate(885.70 1369.56) scale(1.1400 1)" font-size="24.40" text-anchor="end" fill="#e8590c" font-weight="350" class="c">-29</text>
<text x="889.60" y="1367.96" font-size="21.50" font-weight="400" class="c">)</text>
<text transform="translate(1071.00 1369.56) scale(1.2650 1)" font-size="24.40" text-anchor="end" font-weight="350" class="c">17.6</text>
<text x="1085.40" y="1367.96" font-size="21.50" font-weight="400" class="c">(</text>
<text transform="translate(1156.50 1369.56) scale(1.2000 1)" font-size="24.40" text-anchor="end" fill="#3b7550" font-weight="350" class="c">+0.1</text>
<text x="1160.60" y="1367.96" font-size="21.50" font-weight="400" class="c">)</text>
<text x="5.60" y="1419.50" font-size="21.50" fill="#403c39" font-weight="350" class="c">※</text>
<text x="21.90" y="1419.20" font-size="22.20" fill="#403c39" font-weight="350" class="c" letter-spacing="-0.600">「</text>
<text x="40.29" y="1419.20" font-size="22.20" fill="#403c39" font-weight="350" class="c" letter-spacing="-0.618">看護」に関する学科は、</text>
<text x="277.45" y="1419.80" font-size="21.01" fill="#403c39" font-weight="350" class="c" textLength="17.50" lengthAdjust="spacingAndGlyphs">3</text>
<text x="294.38" y="1419.20" font-size="22.20" fill="#403c39" font-weight="350" class="c" letter-spacing="-1.030">年課程</text>
<text x="357.86" y="1419.80" font-size="21.01" fill="#403c39" font-weight="350" class="c" textLength="17.50" lengthAdjust="spacingAndGlyphs">3</text>
<text x="374.79" y="1419.20" font-size="22.20" fill="#403c39" font-weight="350" class="c" letter-spacing="-1.030">年次卒業者および</text>
<text x="544.12" y="1419.80" font-size="21.01" fill="#403c39" font-weight="350" class="c" textLength="17.50" lengthAdjust="spacingAndGlyphs">5</text>
<text x="561.05" y="1419.20" font-size="22.20" fill="#403c39" font-weight="350" class="c" letter-spacing="-1.030">年課程</text>
<text x="624.53" y="1419.80" font-size="21.01" fill="#403c39" font-weight="350" class="c" textLength="17.50" lengthAdjust="spacingAndGlyphs">3</text>
<text x="641.46" y="1419.20" font-size="22.20" fill="#403c39" font-weight="350" class="c" letter-spacing="-1.030">年次卒業者の合計値</text>
<text x="30.15" y="1449.40" font-size="21.01" fill="#403c39" font-weight="350" class="c" textLength="15.90" lengthAdjust="spacingAndGlyphs">5</text>
<text x="45.50" y="1448.80" font-size="22.20" fill="#403c39" font-weight="350" class="c" letter-spacing="-0.200">年次卒業</text>
<text x="140.30" y="1448.50" font-size="21.00" fill="#403c39" font-weight="350" class="c">(</text>
<text x="149.30" y="1448.80" font-size="22.20" fill="#403c39" font-weight="350" class="c" letter-spacing="-0.200">専攻科卒業</text>
<text x="257.00" y="1448.50" font-size="21.00" fill="#403c39" font-weight="350" class="c">)</text>
<text x="271.42" y="1448.80" font-size="22.20" fill="#403c39" font-weight="350" class="c" letter-spacing="-0.567">者は、</text>
<text x="336.20" y="1448.80" font-size="22.20" fill="#403c39" font-weight="350" class="c" letter-spacing="-0.805">高等学校卒業者ではないため合計値から除く</text>
<text x="6.10" y="1516.30" font-size="28.00" font-weight="400" class="c" letter-spacing="-0.400">参考</text>
<text x="62.30" y="1515.80" font-size="27.00" font-weight="400" class="c">)</text>
<text x="82.10" y="1516.30" font-size="28.00" font-weight="400" class="c" letter-spacing="-0.400">看護</text>
<text x="145.20" y="1515.80" font-size="27.00" font-weight="400" class="c">(</text>
<text x="155.61" y="1517.50" font-size="27.84" font-weight="350" class="c" textLength="20.28" lengthAdjust="spacingAndGlyphs">5</text>
<text x="176.20" y="1516.30" font-size="28.00" font-weight="400" class="c" letter-spacing="-0.400">年課程</text>
<text x="258.61" y="1517.50" font-size="27.84" font-weight="350" class="c" textLength="20.58" lengthAdjust="spacingAndGlyphs">5</text>
<text x="279.16" y="1516.30" font-size="28.00" font-weight="400" class="c" letter-spacing="-0.288">年次卒業者の状況</text>
<text x="503.00" y="1515.80" font-size="27.00" font-weight="400" class="c">)</text>
<rect x="6.25" y="1532.00" width="1199.25" height="80.20" fill="#fff" stroke="#4a6358" stroke-width="1.2"/>
<path d="M6.25 1570.40H1205.50" stroke="#4a6358" stroke-width="1.2"/>
<path d="M182.00 1532.00V1612.20" stroke="#4a6358" stroke-width="1.2"/>
<path d="M556.30 1532.00V1612.20" stroke="#4a6358" stroke-width="1.2"/>
<path d="M933.00 1532.00V1612.20" stroke="#4a6358" stroke-width="1.2"/>
<text x="61.30" y="1559.30" font-size="22.20" font-weight="400" class="c" letter-spacing="-1.400">学科名</text>
<text x="306.30" y="1559.30" font-size="22.20" font-weight="400" class="c" letter-spacing="-1.400">卒業者数</text>
<text x="391.20" y="1559.00" font-size="20.50" font-weight="350" class="c">(</text>
<text x="397.60" y="1559.30" font-size="22.20" font-weight="400" class="c" letter-spacing="-0.200">人</text>
<text x="421.70" y="1559.00" font-size="20.50" font-weight="350" class="c">)</text>
<text x="681.80" y="1559.30" font-size="22.20" font-weight="400" class="c" letter-spacing="-1.400">就職者数</text>
<text x="766.70" y="1559.00" font-size="20.50" font-weight="350" class="c">(</text>
<text x="773.10" y="1559.30" font-size="22.20" font-weight="400" class="c" letter-spacing="-0.200">人</text>
<text x="797.20" y="1559.00" font-size="20.50" font-weight="350" class="c">)</text>
<text x="977.80" y="1559.30" font-size="22.20" font-weight="400" class="c" letter-spacing="-1.400">就職者数の割合</text>
<text x="1125.10" y="1559.00" font-size="20.50" font-weight="350" class="c">(</text>
<text x="1132.10" y="1559.30" font-size="20.03" font-weight="350" class="c" textLength="26.00" lengthAdjust="spacingAndGlyphs">%</text>
<text x="1159.10" y="1559.00" font-size="20.50" font-weight="350" class="c">)</text>
<text x="16.48" y="1598.80" font-size="22.30" font-weight="400" class="c" letter-spacing="-1.050">看護</text>
<text x="59.00" y="1597.80" font-size="17.50" font-weight="400" class="c" textLength="113.50" lengthAdjust="spacingAndGlyphs">(5年課程5年次)</text>
<text transform="translate(370.80 1600.20) scale(1.3800 1)" font-size="25.00" text-anchor="middle" font-weight="350" class="c">3,394</text>
<text transform="translate(745.50 1600.20) scale(1.3800 1)" font-size="25.00" text-anchor="middle" font-weight="350" class="c">3,223</text>
<text transform="translate(1074.50 1600.20) scale(1.3800 1)" font-size="25.00" text-anchor="middle" font-weight="350" class="c">95.0</text>
</g></svg></body></html>
